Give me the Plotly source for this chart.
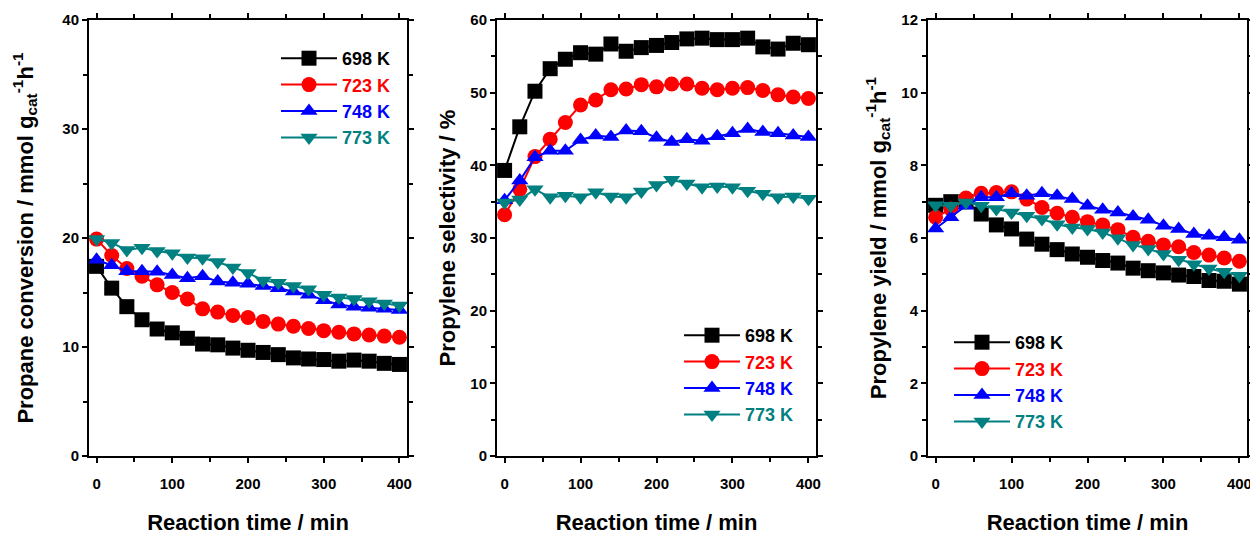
import plotly.graph_objects as go

# ---------------- data ----------------
time_min = list(range(0, 401, 20))
temps = ["698 K", "723 K", "748 K", "773 K"]
colors = ["#000000", "#ff0000", "#0000ff", "#008080"]
symbols = ["square", "circle", "triangle-up", "triangle-down"]

conv_698 = [17.4, 15.4, 13.7, 12.5, 11.65, 11.3, 10.8, 10.27, 10.2, 9.9, 9.7, 9.5, 9.3, 9.0, 8.9, 8.85, 8.7, 8.8, 8.7, 8.5, 8.4]
conv_723 = [19.9, 18.4, 17.2, 16.5, 15.7, 15.0, 14.4, 13.5, 13.2, 12.9, 12.7, 12.35, 12.1, 11.9, 11.7, 11.5, 11.35, 11.2, 11.1, 11.0, 10.9]
conv_748 = [18.0, 17.5, 16.95, 16.95, 16.9, 16.6, 16.3, 16.5, 16.0, 15.9, 15.8, 15.6, 15.4, 15.1, 14.8, 14.3, 13.9, 13.7, 13.6, 13.5, 13.4]
conv_773 = [19.9, 19.55, 18.9, 19.1, 18.8, 18.6, 18.2, 18.15, 17.8, 17.3, 16.8, 16.1, 15.9, 15.6, 15.3, 14.8, 14.55, 14.4, 14.2, 14.0, 13.8]

sel_698 = [39.3, 45.3, 50.2, 53.3, 54.6, 55.5, 55.3, 56.7, 55.7, 56.2, 56.5, 56.9, 57.4, 57.5, 57.3, 57.3, 57.5, 56.3, 56.0, 56.8, 56.6]
sel_723 = [33.2, 36.7, 41.2, 43.6, 45.9, 48.3, 49.0, 50.4, 50.5, 51.1, 50.8, 51.2, 51.2, 50.6, 50.4, 50.6, 50.7, 50.3, 49.7, 49.4, 49.2]
sel_748 = [35.2, 37.9, 41.1, 42.0, 42.0, 43.5, 44.1, 43.9, 44.8, 44.7, 43.8, 43.2, 43.6, 43.4, 44.0, 44.4, 45.0, 44.6, 44.4, 44.1, 43.9]
sel_773 = [34.9, 35.3, 36.7, 35.6, 35.8, 35.6, 36.3, 35.7, 35.6, 36.4, 37.3, 38.0, 37.5, 37.0, 37.1, 37.0, 36.5, 36.1, 35.6, 35.7, 35.4]

yield_698 = [6.9, 7.0, 7.0, 6.66, 6.36, 6.25, 5.97, 5.83, 5.68, 5.56, 5.47, 5.38, 5.31, 5.17, 5.10, 5.04, 4.98, 4.94, 4.83, 4.81, 4.73]
yield_723 = [6.57, 6.8, 7.1, 7.23, 7.25, 7.27, 7.07, 6.84, 6.68, 6.57, 6.45, 6.36, 6.23, 6.02, 5.91, 5.81, 5.76, 5.6, 5.53, 5.45, 5.36]
yield_748 = [6.26, 6.57, 6.89, 7.12, 7.12, 7.23, 7.16, 7.23, 7.16, 7.07, 6.89, 6.78, 6.70, 6.59, 6.5, 6.34, 6.25, 6.11, 6.06, 6.02, 5.95]
yield_773 = [6.9, 6.89, 6.98, 6.89, 6.8, 6.70, 6.61, 6.52, 6.38, 6.29, 6.25, 6.15, 5.99, 5.81, 5.70, 5.56, 5.40, 5.28, 5.16, 5.07, 4.96]

x_title = "Reaction time / min"
y_titles = [
    "Propane conversion / mmol g<sub>cat</sub><sup>-1</sup>h<sup>-1</sup>",
    "Propylene selectivity / %",
    "Propylene yield / mmol g<sub>cat</sub><sup>-1</sup>h<sup>-1</sup>",
]
y_ranges = [(0, 40), (0, 60), (0, 12)]
y_dticks = [10, 10, 2]

panels = [
    [conv_698, conv_723, conv_748, conv_773],
    [sel_698, sel_723, sel_748, sel_773],
    [yield_698, yield_723, yield_748, yield_773],
]

FONT = "Liberation Sans, Arial, sans-serif"
W, H = 1250, 535

fig = go.Figure()
legend_ids = ["legend", "legend2", "legend3"]
for p, series in enumerate(panels):
    ax = "" if p == 0 else str(p + 1)
    for i, ys in enumerate(series):
        fig.add_trace(go.Scatter(
            x=time_min, y=ys, mode="lines+markers",
            name=f"<span style='color:{colors[i]}'>{temps[i]}</span>",
            line=dict(color=colors[i], width=2),
            marker=dict(symbol=symbols[i], size=15, color=colors[i]),
            xaxis="x" + ax, yaxis="y" + ax,
            legend=legend_ids[p], showlegend=True,
        ))

# plot-area pixel boxes (left, right)
boxes = [(89, 407), (497, 816), (928, 1247)]
top_px, bot_px = 20, 456
ydom = [1 - bot_px / H, 1 - top_px / H]
ystand = [23, 9, 9]

layout = dict(
    width=W, height=H,
    margin=dict(l=0, r=0, t=0, b=0),
    paper_bgcolor="white", plot_bgcolor="white",
    font=dict(family=FONT, color="black"),
)
for p in range(3):
    ax = "" if p == 0 else str(p + 1)
    l, r = boxes[p]
    layout["xaxis" + ax] = dict(
        domain=[l / W, r / W], range=[-10, 410], anchor="y" + ax,
        automargin=False, ticklabeloverflow="allow",
        tickmode="linear", tick0=0, dtick=100,
        ticks="outside", ticklen=5, tickwidth=1.5, tickcolor="black",
        ticklabelstandoff=8,
        minor=dict(dtick=50, ticks="outside", ticklen=4, tickwidth=1.5, tickcolor="black"),
        showline=True, linewidth=2, linecolor="black", mirror="ticks",
        showgrid=False, zeroline=False,
        tickfont=dict(size=15, weight="bold", family=FONT),
        title=dict(text=x_title, font=dict(size=22, weight="bold", family=FONT), standoff=28),
    )
    lo, hi = y_ranges[p]
    layout["yaxis" + ax] = dict(
        domain=ydom, range=[lo, hi], anchor="x" + ax,
        automargin=False, ticklabeloverflow="allow",
        tickmode="linear", tick0=0, dtick=y_dticks[p],
        ticks="outside", ticklen=5, tickwidth=1.5, tickcolor="black",
        minor=dict(dtick=y_dticks[p] / 2, ticks="outside", ticklen=4, tickwidth=1.5, tickcolor="black"),
        showline=True, linewidth=2, linecolor="black", mirror="ticks",
        showgrid=False, zeroline=False,
        tickfont=dict(size=15, weight="bold", family=FONT),
        title=dict(text=y_titles[p], font=dict(size=22, weight="bold", family=FONT), standoff=ystand[p]),
    )

leg_common = dict(
    xanchor="left", yanchor="top", bgcolor="rgba(0,0,0,0)",
    font=dict(size=18, weight="bold", family=FONT),
    tracegroupgap=0, itemwidth=56,
)
layout["legend"] = dict(x=276 / W, y=1 - 40 / H, **leg_common)
layout["legend2"] = dict(x=679 / W, y=1 - 317 / H, **leg_common)
layout["legend3"] = dict(x=949 / W, y=1 - 324 / H, **leg_common)

fig.update_layout(**layout)
fig.write_html("out.html")
